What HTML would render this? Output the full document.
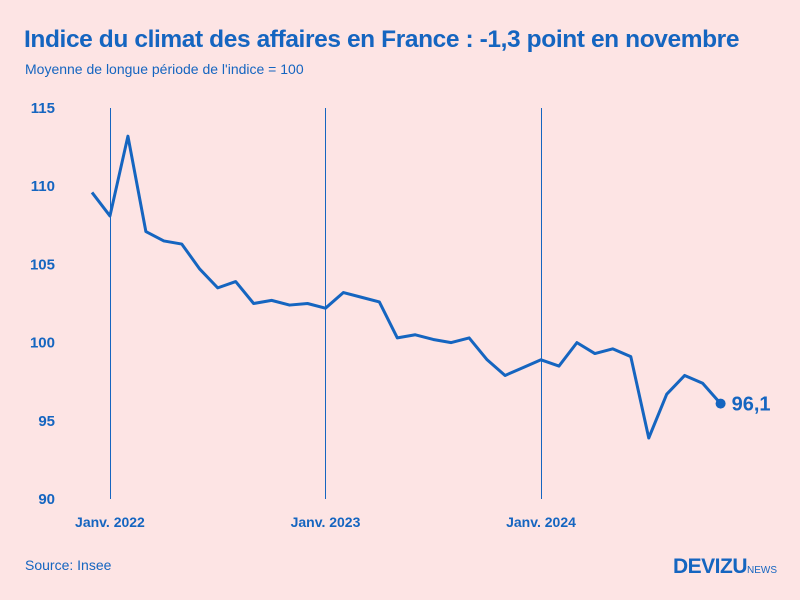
<!DOCTYPE html>
<html><head><meta charset="utf-8">
<style>
body{margin:0;width:800px;height:600px;background:#fde4e4;font-family:"Liberation Sans",sans-serif;overflow:hidden;position:relative}
#title{position:absolute;left:24px;top:26px;font-size:24.5px;font-weight:bold;color:#1565c0;letter-spacing:-0.4px}
#sub{position:absolute;left:25px;top:61px;font-size:14px;color:#1565c0}
#src{position:absolute;left:25px;top:557px;font-size:14px;color:#1565c0}
#logo{position:absolute;left:673px;top:555px;font-size:21px;font-weight:bold;color:#1565c0;letter-spacing:-0.5px}
#logo span{font-size:10px;font-weight:normal;letter-spacing:0}
svg{position:absolute;left:0;top:0}
</style></head><body>
<div id="title">Indice du climat des affaires en France : -1,3 point en novembre</div>
<div id="sub">Moyenne de longue période de l'indice = 100</div>
<div id="src">Source: Insee</div>
<div id="logo">DEVIZU<span>NEWS</span></div>
<svg id="chart" width="800" height="600"></svg>
<script>
const values=[109.6,108.1,113.2,107.1,106.5,106.3,104.7,103.5,103.9,102.5,102.7,102.4,102.5,102.2,103.2,102.9,102.6,100.3,100.5,100.2,100.0,100.3,98.9,97.9,98.4,98.9,98.5,100.0,99.3,99.6,99.1,93.9,96.7,97.9,97.4,96.1];
const yTicks=[90,95,100,105,110,115];
const xLabels=["Janv. 2022","Janv. 2023","Janv. 2024"];
const xLabelIdx=[1,13,25];
const lastLabel="96,1";
const NS="http://www.w3.org/2000/svg",svg=document.getElementById('chart'),C="#1565c0";
const y=v=>499-(v-90)*(391/25);
const x=i=>92+i*17.96;
function mk(t,a){const e=document.createElementNS(NS,t);for(const k in a)e.setAttribute(k,a[k]);svg.appendChild(e);return e;}
yTicks.forEach(t=>{const e=mk('text',{x:55,y:y(t)+5,'text-anchor':'end','font-size':15,'font-weight':'bold',fill:C,'font-family':'Liberation Sans'});e.textContent=t;

});
xLabelIdx.forEach((i,k)=>{const lx=Math.round(x(i))+0.5;const l=mk('line',{x1:lx,x2:lx,y1:108,y2:499,stroke:C,'stroke-width':1});


const e=mk('text',{x:x(i),y:527,'text-anchor':'middle','font-size':14,'font-weight':'bold',fill:C,'font-family':'Liberation Sans'});e.textContent=xLabels[k];

});
const p=mk('polyline',{points:values.map((v,i)=>x(i)+','+y(v)).join(' '),fill:'none',stroke:C,'stroke-width':3,'stroke-linejoin':'round'});


const n=values.length-1;
const d=mk('circle',{cx:x(n),cy:y(values[n]),r:5,fill:C});


const t=mk('text',{x:x(n)+11,y:y(values[n])+7,'font-size':20,'font-weight':'bold',fill:C,'font-family':'Liberation Sans'});t.textContent=lastLabel;


</script>
</body></html>
